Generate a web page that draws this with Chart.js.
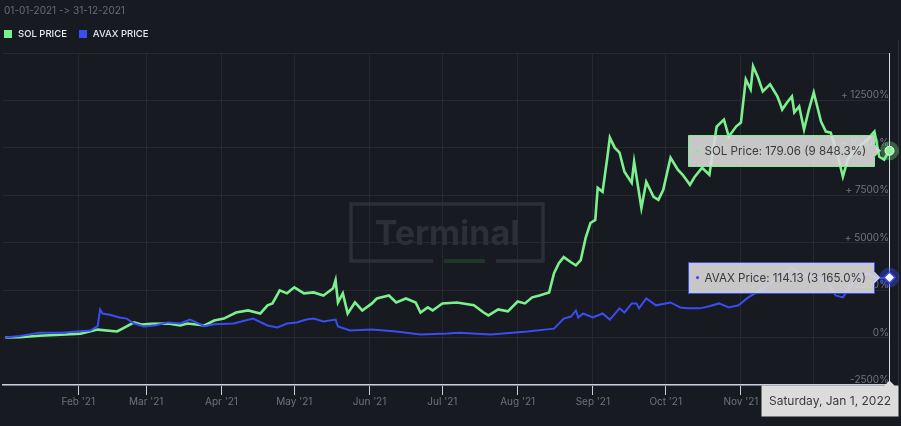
<!DOCTYPE html>
<html>
<head>
<meta charset="utf-8">
<script src="https://cdn.jsdelivr.net/npm/chart.js@4.4.1/dist/chart.umd.min.js"></script>
<style>
html,body{margin:0;padding:0;background:#171a21;}
#wrap{position:relative;width:901px;height:426px;overflow:hidden;background:#171a21;}
#chart{position:absolute;left:0;top:0;}
#title{position:absolute;left:4px;top:4px;font:10px Inter,sans-serif;line-height:12px;color:#686c75;white-space:nowrap;font-feature-settings:"liga" 0,"calt" 0;font-variant-ligatures:none;}
#legend{position:absolute;left:4px;top:28px;font:500 9.5px Inter,sans-serif;line-height:12px;color:#e8e9ec;display:flex;align-items:center;white-space:nowrap;}
#legend .sw{display:inline-block;width:8px;height:8px;margin-right:6px;}
#legend .item{display:flex;align-items:center;margin-right:12px;}
</style>
</head>
<body>
<div id="wrap">
  <canvas id="chart" width="901" height="426"></canvas>
  <div id="title"></div>
  <div id="legend"></div>
</div>
<script>
// ---------- data ----------
const rangeLabel = '01-01-2021 -> 31-12-2021';
const seriesNames = ['SOL PRICE', 'AVAX PRICE'];
const tooltipNames = ['SOL Price', 'AVAX Price'];
const lastPrices = [179.06, 114.13];
const hoverDateLabel = 'Saturday, Jan 1, 2022';
const seriesColors = ['#7cf08d', '#3b4df2'];

// x = day of year 2021 (0 = Jan 1 2021, 365 = Jan 1 2022)
const monthTickDays = [31, 59, 90, 120, 151, 181, 212, 243, 273, 304, 334];
const monthTickLabels = ["Feb '21", "Mar '21", "Apr '21", "May '21", "Jun '21", "Jul '21", "Aug '21", "Sep '21", "Oct '21", "Nov '21", "Dec '21"];

const solDays = [
  1,7,15,26,32,39,47,50,54,57,
  61,68,73,76,83,87,91,96,101,106,
  109,111,114,117,120,124,128,132,136,137,
  138,140,142,145,148,152,154,159,162,166,
  170,172,175,177,181,187,194,198,200,204,
  208,212,215,218,221,225,227,229,231,234,
  236,238,240,242,244,245,247,249,250,252,
  254,256,259,260,263,265,268,270,272,275,
  278,280,283,285,288,291,294,297,299,302,
  304,306,308,309,311,313,316,319,320,321,
  323,325,326,328,330,332,334,337,339,341,
  344,346,348,350,353,356,359,361,363,365
];
const solValues = [
  0,20,100,160,210,420,320,530,800,690,
  720,740,640,740,640,900,1000,1320,1430,1270,
  1700,1800,2490,2330,2650,2330,2380,2220,2600,3020,
  1850,2330,1270,1850,1430,1800,2060,2220,1850,2060,
  1850,1320,1590,1430,1800,1850,1700,1320,1170,1480,
  1380,1900,1800,2120,2220,2380,3390,3920,4240,3970,
  3810,4080,5240,6040,6200,7890,7680,9530,10540,10010,
  9750,8740,8160,9270,6830,8210,7420,7260,7790,9480,
  8850,8580,8050,8480,8950,8580,11120,11490,10590,11120,
  11330,13610,13080,14300,13720,12980,13350,12710,12390,12020,
  12390,12710,11870,12180,10960,12020,12920,11390,10860,10800,
  9530,8480,9380,9750,10100,10430,10860,9530,9380,9848.3
];

const avaxDays = [
  1,7,15,24,36,39,40,41,44,48,
  51,54,58,63,68,73,77,83,87,95,
  103,109,113,117,121,125,128,132,137,138,
  143,152,162,172,183,188,201,216,227,231,
  234,236,237,239,243,247,250,254,256,259,
  261,262,265,269,275,279,282,287,291,295,
  299,303,307,312,316,320,325,328,334,339,
  343,346,350,356,360,365
];
const avaxValues = [
  0,80,260,250,370,600,1480,1270,1200,1060,
  1000,740,580,650,800,740,950,600,700,740,
  1000,640,530,740,800,950,1000,850,950,580,
  370,420,320,160,210,260,160,320,470,1000,
  1110,1430,1060,1270,1060,1270,950,1540,1320,1800,
  1800,1540,2060,1700,1850,1590,1540,1540,1650,1800,
  1590,1700,2120,2490,2860,3180,3710,3390,3180,3020,
  2220,2120,2860,3390,3120,3165
];

// ---------- header / legend (real text) ----------
document.getElementById('title').textContent = rangeLabel;
const legendEl = document.getElementById('legend');
seriesNames.forEach((n, i) => {
  const it = document.createElement('span'); it.className = 'item';
  const sw = document.createElement('span'); sw.className = 'sw'; sw.style.background = seriesColors[i];
  const tx = document.createElement('span'); tx.textContent = n;
  it.appendChild(sw); it.appendChild(tx); legendEl.appendChild(it);
});

function fmtPct(v) {
  const s = v.toFixed(1); const parts = s.split('.');
  return parts[0].replace(/\B(?=(\d{3})+(?!\d))/g, ' ') + '.' + parts[1] + '%';
}
function fmtTick(v) {
  if (v === 15000) return '';
  if (v > 0) return '+ ' + v + '%';
  return v + '%';
}

const watermark = {
  id: 'watermark',
  beforeDatasetsDraw(chart) {
    const ctx = chart.ctx;
    ctx.save();
    ctx.strokeStyle = '#2c2f37';
    ctx.lineWidth = 3.5;
    ctx.beginPath();
    ctx.moveTo(433, 261); ctx.lineTo(351, 261); ctx.lineTo(351, 204);
    ctx.lineTo(543, 204); ctx.lineTo(543, 261); ctx.lineTo(496, 261);
    ctx.stroke();
    ctx.fillStyle = '#1f3628';
    ctx.fillRect(444, 259, 41, 4);
    ctx.fillStyle = '#2c2f37';
    ctx.font = 'bold 34px Inter, sans-serif';
    ctx.textAlign = 'center'; ctx.textBaseline = 'alphabetic';
    ctx.fillText('Terminal', 447, 245);
    ctx.restore();
  }
};

function drawTip(ctx, mx, my, color, text) {
  ctx.font = '11.6px Inter, sans-serif';
  const tw = ctx.measureText(text).width;
  const right = Math.round(mx - 16) + 0.5;
  const left = Math.round(right - tw - 25) + 0.5;
  const top = Math.round(my - 16) + 0.5;
  const h = 31;
  ctx.fillStyle = 'rgba(218,218,218,0.9)';
  ctx.strokeStyle = color; ctx.lineWidth = 1;
  ctx.beginPath();
  ctx.moveTo(left, top); ctx.lineTo(right, top); ctx.lineTo(right, my - 6);
  ctx.lineTo(right + 6, my); ctx.lineTo(right, my + 6); ctx.lineTo(right, top + h);
  ctx.lineTo(left, top + h); ctx.closePath();
  ctx.fill(); ctx.stroke();
  ctx.fillStyle = color;
  ctx.beginPath(); ctx.arc(left + 9, my, 1.6, 0, Math.PI * 2); ctx.fill();
  ctx.fillStyle = '#3a3a3c'; ctx.textAlign = 'left'; ctx.textBaseline = 'middle';
  ctx.fillText(text, left + 16, my + 0.5);
}

const overlay = {
  id: 'overlay',
  afterDraw(chart) {
    const ctx = chart.ctx, xs = chart.scales.x, ys = chart.scales.y, ca = chart.chartArea;
    const lastDay = solDays[solDays.length - 1];
    const mx = Math.round(xs.getPixelForValue(lastDay)) + 0.5;
    const solV = solValues[solValues.length - 1];
    const avaxV = avaxValues[avaxValues.length - 1];
    const sy = ys.getPixelForValue(solV), ay = ys.getPixelForValue(avaxV);
    ctx.save();
    // right border
    ctx.strokeStyle = '#2a2d35'; ctx.lineWidth = 1;
    ctx.beginPath(); ctx.moveTo(898.5, 40); ctx.lineTo(898.5, ca.bottom); ctx.stroke();
    // crosshair
    ctx.strokeStyle = '#d7dce6'; ctx.lineWidth = 1;
    ctx.beginPath(); ctx.moveTo(mx, ca.top); ctx.lineTo(mx, ca.bottom); ctx.stroke();
    // SOL marker
    ctx.fillStyle = 'rgba(124,240,141,0.32)';
    ctx.beginPath(); ctx.arc(mx, sy, 9.5, 0, Math.PI * 2); ctx.fill();
    ctx.fillStyle = '#8ef59c'; ctx.strokeStyle = '#e9ffe9'; ctx.lineWidth = 1;
    ctx.beginPath(); ctx.arc(mx, sy, 4.5, 0, Math.PI * 2); ctx.fill(); ctx.stroke();
    // AVAX marker
    ctx.fillStyle = 'rgba(59,77,242,0.38)';
    ctx.beginPath(); ctx.arc(mx, ay, 10, 0, Math.PI * 2); ctx.fill();
    ctx.fillStyle = '#ffffff'; ctx.strokeStyle = '#3b4df2'; ctx.lineWidth = 1.5;
    ctx.beginPath(); ctx.moveTo(mx, ay - 5.5); ctx.lineTo(mx + 5.5, ay); ctx.lineTo(mx, ay + 5.5); ctx.lineTo(mx - 5.5, ay); ctx.closePath();
    ctx.fill(); ctx.stroke();
    // tooltips
    drawTip(ctx, mx, sy, seriesColors[0], tooltipNames[0] + ': ' + lastPrices[0].toFixed(2) + ' (' + fmtPct(solV) + ')');
    drawTip(ctx, mx, ay, seriesColors[1], tooltipNames[1] + ': ' + lastPrices[1].toFixed(2) + ' (' + fmtPct(avaxV) + ')');
    // date box
    const bl = 761.5, br = 898.5, bt = ca.bottom + 0.5, bb = bt + 31;
    ctx.fillStyle = '#dcdcdc';
    ctx.beginPath();
    ctx.moveTo(bl, bt); ctx.lineTo(mx - 5, bt); ctx.lineTo(mx, bt - 5); ctx.lineTo(mx + 5, bt);
    ctx.lineTo(br, bt); ctx.lineTo(br, bb); ctx.lineTo(bl, bb); ctx.closePath();
    ctx.fill();
    ctx.fillStyle = '#3a3a3c'; ctx.font = '12px Inter, sans-serif';
    ctx.textAlign = 'center'; ctx.textBaseline = 'middle';
    ctx.fillText(hoverDateLabel, (bl + br) / 2, (bt + bb) / 2 + 0.5);
    ctx.restore();
  }
};

const chart = new Chart(document.getElementById('chart'), {
  type: 'line',
  data: {
    datasets: [
      {
        label: seriesNames[0],
        data: solDays.map((d, i) => ({ x: d, y: solValues[i] })),
        borderColor: seriesColors[0], borderWidth: 2.6, pointRadius: 0, tension: 0, order: 1
      },
      {
        label: seriesNames[1],
        data: avaxDays.map((d, i) => ({ x: d, y: avaxValues[i] })),
        borderColor: seriesColors[1], borderWidth: 2, pointRadius: 0, tension: 0, order: 0
      }
    ]
  },
  options: {
    responsive: false,
    animation: false,
    devicePixelRatio: 1,
    layout: { padding: { top: 53, left: 3, right: 12, bottom: 0 } },
    plugins: { legend: { display: false }, tooltip: { enabled: false }, title: { display: false } },
    scales: {
      x: {
        type: 'linear', min: 0, max: 365,
        afterBuildTicks: (s) => { s.ticks = monthTickDays.map(v => ({ value: v })); },
        afterFit: (s) => { s.height = 41; },
        grid: { color: '#262930', tickColor: '#c9d0dd', tickLength: 10, drawOnChartArea: true },
        border: { color: '#c9d0dd', width: 1.5 },
        ticks: {
          autoSkip: false, maxRotation: 0, padding: 1, color: '#6e727b',
          font: { family: 'Inter', size: 10 },
          callback: (v) => { const k = monthTickDays.indexOf(v); return k >= 0 ? monthTickLabels[k] : ''; }
        }
      },
      y: {
        position: 'right', min: -2500, max: 15000,
        afterFit: (s) => { s.width = 0; },
        grid: { color: '#262930', drawTicks: false },
        border: { display: false },
        ticks: {
          stepSize: 2500, mirror: true, padding: 0, labelOffset: -5,
          color: '#71757e', font: { family: 'Inter', size: 10 },
          callback: (v) => fmtTick(v)
        }
      }
    }
  },
  plugins: [watermark, overlay]
});
</script>
</body>
</html>
